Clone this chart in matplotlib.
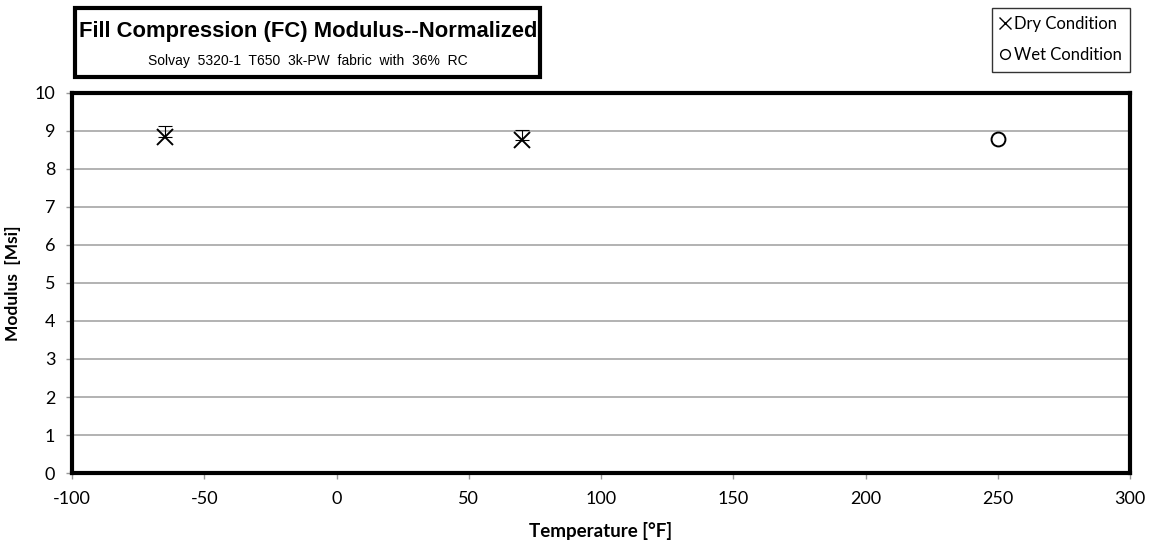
import matplotlib
matplotlib.use('Agg')
import matplotlib.pyplot as plt
from matplotlib.patches import Rectangle
from matplotlib.lines import Line2D

# data
dry_temp = [-65, 70]
dry_mod = [8.85, 8.76]
dry_err_up = [0.28, 0.26]
wet_temp = [250]
wet_mod = [8.78]

x_ticks = [-100, -50, 0, 50, 100, 150, 200, 250, 300]
y_ticks = list(range(0, 11))

title = 'Fill Compression (FC) Modulus--Normalized'
subtitle = 'Solvay  5320-1  T650  3k-PW  fabric  with  36%  RC'

W, H = 1151, 547
fig = plt.figure(figsize=(W / 100, H / 100), dpi=100)
ax = fig.add_axes([72 / W, 1 - 473 / H, (1130 - 72) / W, (473 - 93) / H])

ax.errorbar(dry_temp, dry_mod, yerr=[[0] * len(dry_err_up), dry_err_up],
            fmt='none', ecolor='black', elinewidth=0.8, capsize=5, capthick=0.8, zorder=3)
ax.plot(dry_temp, dry_mod, linestyle='none', marker='x', markersize=11,
        markeredgewidth=1.4, color='black', zorder=4)
ax.plot(wet_temp, wet_mod, linestyle='none', marker='o', markersize=10,
        markerfacecolor='white', markeredgewidth=1.4, markeredgecolor='black', zorder=4)

ax.set_xlim(-100, 300)
ax.set_ylim(0, 10)
ax.set_xticks(x_ticks)
ax.set_yticks(y_ticks)
ax.set_xticklabels([str(t) for t in x_ticks], fontfamily='Lato', fontsize=13)
ax.set_yticklabels([str(t) for t in y_ticks], fontfamily='Lato', fontsize=13)
ax.tick_params(axis='both', length=4, color='#999999', width=1)
ax.tick_params(axis='x', direction='out', pad=9)
ax.tick_params(axis='y', direction='out', pad=8)
ax.grid(axis='y', color='#a6a6a6', linewidth=1.2)
ax.set_axisbelow(True)
for s in ax.spines.values():
    s.set_linewidth(3)
    s.set_color('black')

ax.set_xlabel('Temperature [°F]', fontfamily='Lato', fontweight='bold', fontsize=13.5, labelpad=11)
ax.set_ylabel('Modulus  [Msi]', fontfamily='Lato', fontweight='bold', fontsize=12.5, labelpad=10)

# title box
fig.patches.append(Rectangle((75 / W, 1 - 77 / H), (540 - 75) / W, (77 - 8) / H,
                             transform=fig.transFigure, facecolor='white',
                             edgecolor='black', linewidth=3))
fig.text(308 / W, 1 - 32 / H, title, ha='center', va='center',
         fontfamily='Liberation Sans', fontweight='bold', fontsize=15.8)
fig.text(308 / W, 1 - 61 / H, subtitle, ha='center', va='center',
         fontfamily='Liberation Sans', fontsize=10)

# legend box
handles = [Line2D([], [], linestyle='none', marker='x', color='black', markersize=8, markeredgewidth=1),
           Line2D([], [], linestyle='none', marker='o', markerfacecolor='white',
                  markeredgecolor='black', markersize=7, markeredgewidth=1)]
leg = fig.legend(handles, ['Dry Condition', 'Wet Condition'], loc='upper right',
                 bbox_to_anchor=(1130 / W, 1 - 8 / H), frameon=True, fancybox=False,
                 prop={'family': 'Lato', 'size': 12}, handlelength=0.6, handletextpad=0.2,
                 labelspacing=0.9, borderpad=0.5, borderaxespad=0)
leg.get_frame().set_edgecolor('black')
leg.get_frame().set_linewidth(1)

fig.savefig('out.png', dpi=100)
